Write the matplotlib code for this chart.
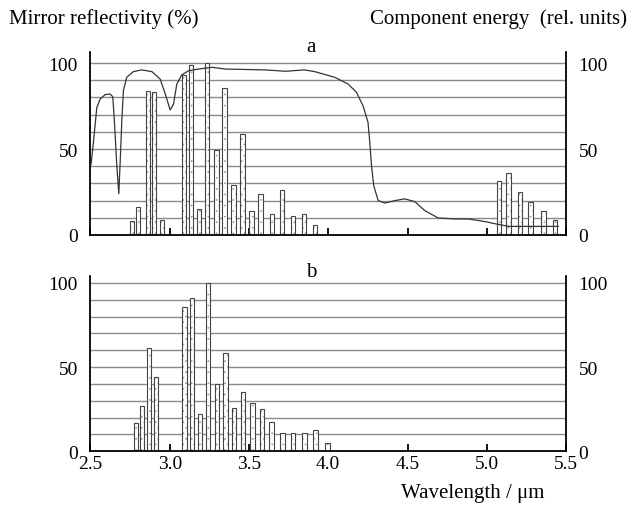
import matplotlib.pyplot as plt
import numpy as np

# mirror reflectivity curve (panel a)
curve_wl = [2.504, 2.518, 2.54, 2.561, 2.592, 2.624, 2.641, 2.651, 2.666, 2.679, 2.687, 2.698,
            2.708, 2.729, 2.771, 2.824, 2.888, 2.94, 2.972, 3.003, 3.024, 3.045, 3.077, 3.119,
            3.182, 3.267, 3.351, 3.604, 3.73, 3.85, 3.915, 4.041, 4.125, 4.178, 4.22, 4.251,
            4.262, 4.273, 4.287, 4.315, 4.357, 4.42, 4.483, 4.546, 4.61, 4.694, 4.8, 4.884,
            4.958, 5.01, 5.06, 5.14, 5.3, 5.45]
curve_r = [41, 53, 74, 79, 81.6, 82, 80.4, 66.5, 41, 24, 41, 66.5,
           84, 91.7, 95, 96, 95, 90.7, 82, 72.7, 76, 87.8, 93.2, 95.5,
           96.5, 97.5, 96.5, 96, 95.2, 96, 95, 91.7, 87.8, 83, 75, 65.5,
           54, 40.3, 28.7, 20, 18.6, 20, 21, 19.4, 14.1, 9.9, 9.3, 9.3,
           8.3, 7.4, 6.4, 5, 5, 5]

# component energies, panel a
wl_a = [2.762, 2.800, 2.862, 2.902, 2.953, 3.092, 3.134, 3.184, 3.237, 3.295, 3.346, 3.403,
        3.458, 3.515, 3.573, 3.646, 3.708, 3.778, 3.847, 3.917,
        5.077, 5.137, 5.209, 5.277, 5.358, 5.430]
en_a = [8, 16, 83.5, 83, 9, 93, 99, 15, 100, 49.5, 85.5, 29,
        59, 14, 24, 12, 26, 11, 12, 6,
        31.5, 36, 25, 19, 14, 9]

# component energies, panel b
wl_b = [2.789, 2.827, 2.870, 2.913, 3.094, 3.141, 3.192, 3.243, 3.298, 3.351, 3.406, 3.463,
        3.523, 3.583, 3.643, 3.712, 3.778, 3.850, 3.921, 3.996]
en_b = [17, 27, 61.5, 44, 86, 91, 22, 100, 40, 58.5, 25.5, 35,
        28.5, 25, 17.5, 11, 11, 11, 12.5, 5]

xticks = [2.5, 3.0, 3.5, 4.0, 4.5, 5.0, 5.5]

plt.rcParams['font.family'] = ['Liberation Serif', 'DejaVu Serif']
plt.rcParams['font.size'] = 14
plt.rcParams['hatch.linewidth'] = 0.5

fig = plt.figure(figsize=(6.35, 5.06), dpi=100)
ax_a = fig.add_axes([0.1424, 0.5336, 0.749, 0.3623])
ax_b = fig.add_axes([0.1424, 0.1061, 0.749, 0.347])


def style(ax, ymax, xlabels):
    ax.set_xlim(2.5, 5.5)
    ax.set_ylim(0, ymax)
    for y in range(10, 101, 10):
        ax.axhline(y, color='#8a8a8a', lw=1.0, zorder=1)
    ax.spines['top'].set_visible(False)
    for s in ['left', 'right', 'bottom']:
        ax.spines[s].set_linewidth(1.3)
        ax.spines[s].set_color('black')
    ax.set_xticks(xticks)
    ax.tick_params(axis='x', direction='in', length=5, width=1.3, pad=3)
    if xlabels:
        ax.set_xticklabels([f'{t:.1f}' for t in xticks])
    else:
        ax.set_xticklabels([])
    ax.set_yticks([0, 50, 100])
    ax.tick_params(axis='y', length=0, pad=9, labelleft=True, labelright=True)


def bars(ax, wl, en):
    # light dotted fill, then a dark outline on top
    ax.bar(wl, en, width=0.028, facecolor='white', edgecolor='#9a9a9a', hatch='...',
           lw=0, zorder=2)
    ax.bar(wl, en, width=0.028, facecolor='none', edgecolor='#444444', lw=0.8, zorder=2.5)


style(ax_a, 106.6, False)
style(ax_b, 104.3, True)

bars(ax_a, wl_a, en_a)
ax_a.plot(curve_wl, curve_r, color='#333333', lw=0.9, zorder=3)
bars(ax_b, wl_b, en_b)

fig.text(0.014, 0.962, 'Mirror reflectivity (%)', ha='left', va='center', fontsize=15)
fig.text(0.987, 0.962, 'Component energy  (rel. units)', ha='right', va='center', fontsize=15)
fig.text(0.49, 0.907, 'a', ha='center', va='center', fontsize=15)
fig.text(0.49, 0.462, 'b', ha='center', va='center', fontsize=15)
fig.text(0.745, 0.024, 'Wavelength / μm', ha='center', va='center', fontsize=15)

plt.savefig('out.png', dpi=100)
